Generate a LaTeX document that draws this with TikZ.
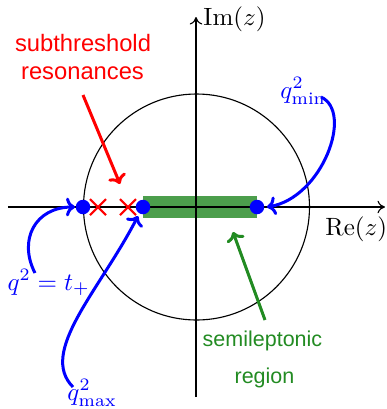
\documentclass[tikz,border=0pt]{standalone}
\usepackage{fontspec}
\setsansfont{Liberation Sans}
\usetikzlibrary{arrows.meta,calc}
\definecolor{barg}{RGB}{76,158,76}
\definecolor{textg}{RGB}{34,139,34}
\tikzset{
  axis/.style={line width=0.45pt,-{To[length=3pt,width=5pt]}},
  thin circle/.style={line width=0.45pt},
  dotpt/.style={circle,fill=blue,inner sep=0pt,minimum size=5.8pt},
  crossmark/.style={red,line width=0.85pt},
  bluearrow/.style={blue,line width=1.2pt,-{To[length=3.6pt,width=7.5pt]}},
  redarrow/.style={red,line width=1.2pt,-{To[length=3.6pt,width=7.5pt]}},
  greenarrow/.style={textg,line width=1.2pt,-{To[length=3.6pt,width=7.5pt]}},
  redtext/.style={red,font=\sffamily\fontsize{9.5}{11}\selectfont,inner sep=0pt,anchor=base},
  greentext/.style={textg,font=\sffamily\fontsize{8.6}{10}\selectfont,inner sep=0pt,anchor=base},
  bluelabel/.style={blue,inner sep=0pt,anchor=base},
}
\begin{document}
\begin{tikzpicture}[x=0.4pt,y=-0.4pt]
\useasboundingbox (0,0) rectangle (387,409);
% green bar
\fill[barg] (143,196) rectangle (257,218);
% axes
\coordinate (xl) at (8,207);
\coordinate (xr) at (385,207);
\coordinate (yb) at (196,397);
\coordinate (yt) at (196,17);
\draw[axis] (xl) -- (xr);
\draw[axis] (yb) -- (yt);
\node[anchor=base west,inner sep=0pt] (re) at (325,235) {$\mathrm{Re}(z)$};
\node[anchor=base west,inner sep=0pt] (im) at (203,25) {$\mathrm{Im}(z)$};
% unit circle
\coordinate (o) at (196.5,207);
\draw[thin circle] (o) circle[radius=45.2pt];
% crosses
\foreach \cx/\nm in {98/c1,128/c2}{
  \coordinate (\nm) at (\cx,207);
  \draw[crossmark] ($(\nm)+(-8,-8)$) -- ($(\nm)+(8,8)$);
  \draw[crossmark] ($(\nm)+(-8,8)$) -- ($(\nm)+(8,-8)$);
}
% dots
\node[dotpt] (tp) at (83,207) {};
\node[dotpt] (qmax) at (143,207) {};
\node[dotpt] (qmin) at (257,207) {};
% labels
\node[redtext] (sub) at (83,51) {subthreshold};
\node[redtext] (res) at (82.5,79) {resonances};
\node[greentext] (semi) at (262.5,346) {semileptonic};
\node[greentext] (reg) at (264.5,383) {region};
\node[bluelabel,anchor=base west] (lmin) at (280,98) {$q^2_{\mathrm{min}}$};
\node[bluelabel,anchor=base west] (ltp) at (7,290) {$q^2=t_+$};
\node[bluelabel,anchor=base west] (lmax) at (67,400) {$q^2_{\mathrm{max}}$};
% arrows
\coordinate (rs) at (83,95);
\coordinate (re2) at (120,184);
\draw[redarrow] (rs) -- (re2);
\coordinate (gs) at (265,320);
\coordinate (ge) at (233,232);
\draw[greenarrow] (gs) -- (ge);
\coordinate (bminS) at (321,97);
\coordinate (bminE) at (267,207);
\draw[bluearrow] (bminS) .. controls (354,112) and (322,198) .. (bminE);
\coordinate (btpS) at (35,273);
\coordinate (btpE) at (75,207);
\draw[bluearrow] (btpS) .. controls (18,240) and (35,207) .. (btpE);
\coordinate (bmaxS) at (73,387);
\coordinate (bmaxE) at (138,216);
\draw[bluearrow] (bmaxS) .. controls (38,352) and (100,290) .. (bmaxE);
\end{tikzpicture}
\end{document}
